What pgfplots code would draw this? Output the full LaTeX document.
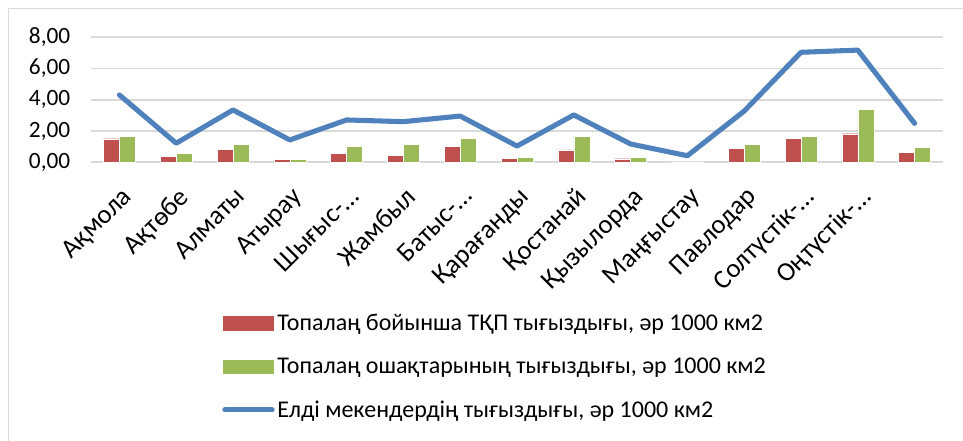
\documentclass[border=0pt]{standalone}
\usepackage{fontspec}
\setmainfont{Carlito}
\usepackage{pgfplots}
\pgfplotsset{compat=1.18}
\definecolor{xred}{RGB}{192,80,77}
\definecolor{xgreen}{RGB}{155,187,89}
\definecolor{xblue}{RGB}{79,129,189}
\definecolor{xgrid}{RGB}{217,217,217}
\begin{document}
\begin{tikzpicture}
\path[use as bounding box] (0,0) rectangle (963*0.75pt,441*0.75pt);
\draw[xgrid, line width=1pt] (8.5*0.75pt,0) -- (8.5*0.75pt,432.5*0.75pt) -- (963*0.75pt,432.5*0.75pt);
\begin{axis}[
  at={(91*0.75pt,278.7*0.75pt)}, anchor=south west,
  scale only axis, width=639pt, height=93.75pt,
  xmin=-0.5, xmax=14.5, ymin=0, ymax=8,
  ytick={0,2,4,6,8},
  xtick={0,...,14},
  xticklabels={Ақмола, Ақтөбе, Алматы, Атырау, Шығыс-…, Жамбыл, Батыс-…, Қарағанды, Қостанай, Қызылорда, Маңғыстау, Павлодар, Солтүстік-…, Оңтүстік-…, {}},
  axis line style={draw=none},
  axis x line*=bottom,
  axis y line*=left,
  major tick length=0pt,
  ymajorgrids, grid style={xgrid, line width=1.2pt},
  extra y ticks={0}, extra y tick labels={},
  extra y tick style={grid style={xgrid,line width=1.5pt}},
  tick label style={text=black},
  yticklabel style={xshift=-12pt, font=\fontsize{17.5}{20}\selectfont},
  xticklabel style={xshift=1pt, yshift=-16pt, rotate=45, anchor=north east, inner sep=1pt, font=\fontsize{20}{24}\selectfont},
  /pgf/number format/.cd, fixed, fixed zerofill, precision=2, use comma, assume math mode=true,
  /pgfplots/.cd,
  legend cell align=left,
  legend style={draw=none, fill=none, at={(0.1538,-1.19)}, anchor=north west,
    font=\fontsize{18}{21}\selectfont, row sep=15pt, inner sep=0pt,
    /tikz/every odd column/.append style={column sep=0pt}},
]
\addplot[ybar, bar width=12pt, bar shift=-6pt, fill=xred, draw=white, line width=0.3pt,
  legend image code/.code={\fill[xred] (0pt,-5pt) rectangle (37.5pt,5pt);}]
  coordinates {(0,1.51) (1,0.40) (2,0.83) (3,0.21) (4,0.59) (5,0.45) (6,1.02) (7,0.27) (8,0.79) (9,0.23) (10,0) (11,0.91) (12,1.55) (13,1.83) (14,0.64)};
\addlegendentry{Топалаң бойынша ТҚП тығыздығы, әр 1000 км2}
\addplot[ybar, bar width=12pt, bar shift=6pt, fill=xgreen, draw=white, line width=0.3pt,
  legend image code/.code={\fill[xgreen] (0pt,-5pt) rectangle (37.5pt,5pt);}]
  coordinates {(0,1.68) (1,0.59) (2,1.17) (3,0.21) (4,1.00) (5,1.17) (6,1.55) (7,0.32) (8,1.68) (9,0.32) (10,0) (11,1.17) (12,1.68) (13,3.41) (14,0.96)};
\addlegendentry{Топалаң ошақтарының тығыздығы, әр 1000 км2}
\addplot[xblue, line width=3.8pt, line join=round, line cap=round, mark=none,
  legend image code/.code={\draw[xblue, line width=3.8pt, line cap=round] (1pt,0pt) -- (36.5pt,0pt);}]
  coordinates {(0,4.31) (1,1.22) (2,3.35) (3,1.43) (4,2.71) (5,2.60) (6,2.96) (7,1.04) (8,3.03) (9,1.17) (10,0.42) (11,3.28) (12,7.04) (13,7.18) (14,2.49)};
\addlegendentry{Елді мекендердің тығыздығы, әр 1000 км2}
\end{axis}
\end{tikzpicture}
\end{document}
